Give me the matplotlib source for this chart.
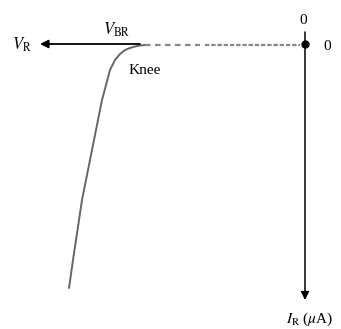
import matplotlib
matplotlib.use("Agg")
import matplotlib.pyplot as plt

plt.rcParams["mathtext.fontset"] = "stix"
plt.rcParams["font.family"] = "Liberation Serif"

# reverse-bias characteristic (V in arbitrary units, I_R positive downward)
v_curve = [-47.2, -46.4, -45.5, -44.6, -43.6, -42.6, -41.6, -40.6, -39.8,
           -39.0, -38.0, -37.0, -36.0, -35.0, -34.0, -33.0, -32.0]
i_curve = [48.8, 43.2, 37.2, 31.2, 26.2, 21.2, 16.2, 11.2, 8.2,
           5.2, 3.2, 2.0, 1.2, 0.8, 0.5, 0.3, 0.2]

# leakage region before breakdown
v_leak_sparse = [-32.0, -21.0]
v_leak_dense = [-20.0, -1.0]
i_leak = 0.25

v_axis_end = -53.0
i_axis_end = 51.2
v_axis_solid = -33.0

fig = plt.figure(figsize=(3.41, 3.29), dpi=100)
ax = fig.add_axes([0, 0, 1, 1])
ax.set_xlim(-61, 7.2)
ax.set_ylim(57, -8.8)
ax.axis("off")

# horizontal axis (V_R grows to the left)
ax.annotate("", xy=(v_axis_end, 0), xytext=(v_axis_solid, 0),
            arrowprops=dict(arrowstyle="-|>", color="black", lw=1.3,
                            mutation_scale=12, shrinkA=0, shrinkB=0))
# vertical axis (I_R grows downward)
ax.annotate("", xy=(0, i_axis_end), xytext=(0, -2.4),
            arrowprops=dict(arrowstyle="-|>", color="black", lw=1.1,
                            mutation_scale=12, shrinkA=0, shrinkB=0))

ax.plot(v_curve, i_curve, color="#666666", lw=1.4, solid_capstyle="round")
ax.plot(v_leak_sparse, [i_leak] * 2, color="#888888", lw=1.6,
        dashes=(2.5, 2))
ax.plot(v_leak_dense, [i_leak] * 2, color="#888888", lw=1.6,
        dashes=(2, 0.8))
ax.plot([0], [0], "o", color="black", ms=5)

ax.text(-56.6, 0.2, r"$V_{\mathrm{R}}$", fontsize=12, ha="center", va="center")
ax.text(-37.6, -2.8, r"$V_{\mathrm{BR}}$", fontsize=12, ha="center", va="center")
ax.text(-32.0, 5.4, "Knee", fontsize=11, ha="center", va="center")
ax.text(-0.4, -4.8, "0", fontsize=11, ha="center", va="center")
ax.text(4.4, 0.4, "0", fontsize=11, ha="center", va="center")
ax.text(1.0, 55.0, r"$I_{\mathrm{R}}$ ($\mu$A)", fontsize=11,
        ha="center", va="center")

fig.savefig("out.png", dpi=100)
